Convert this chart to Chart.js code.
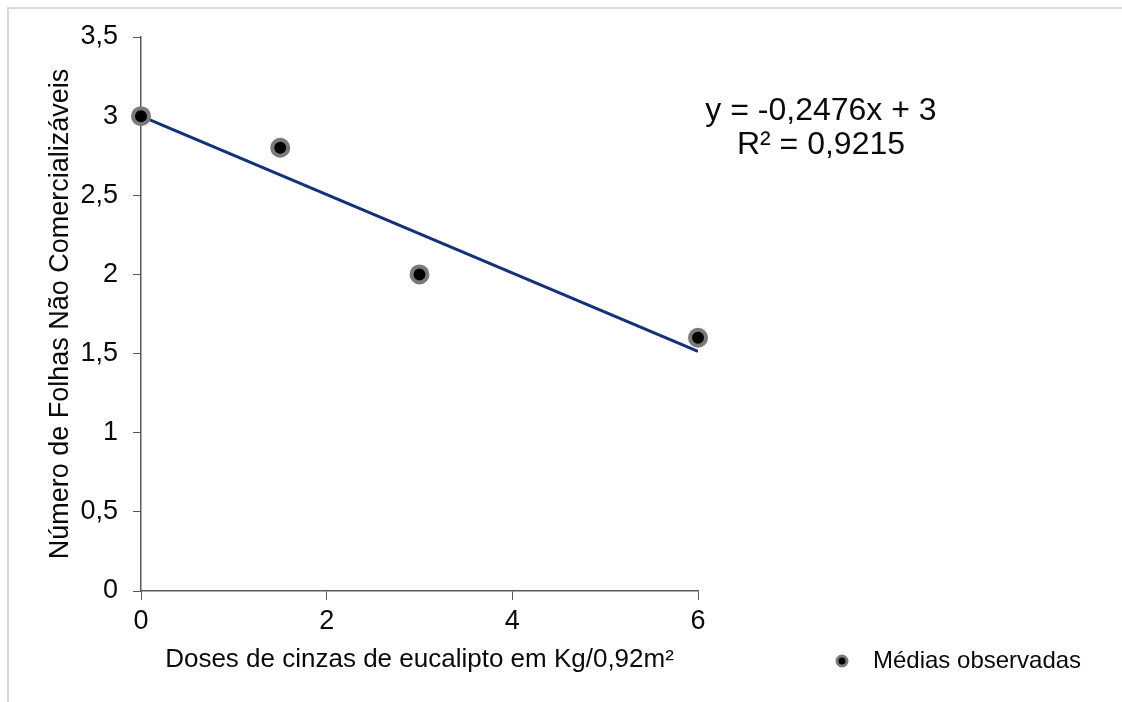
<!DOCTYPE html>
<html>
<head>
<meta charset="utf-8">
<script src="https://cdn.jsdelivr.net/npm/chart.js@4/dist/chart.umd.min.js"></script>
<style>
    body { margin: 0; background: #fff; }
    #wrap { position: relative; width: 1122px; height: 702px; }
    #frame { position: absolute; left: 7px; top: 7px; right: -10px; bottom: -10px;
             border-left: 2px solid #d9d9d9; border-top: 2px solid #d9d9d9; }
    canvas { position: absolute; left: 0; top: 0; }
</style>
</head>
<body>
<div id="wrap">
    <div id="frame"></div>
    <canvas id="chart" width="1122" height="702"></canvas>
</div>
<script>
// observed means
var doses = [0, 1.5, 3, 6];
var folhas = [3, 2.8, 2.0, 1.6];

// linear trend y = -0,2476x + 3, endpoints
var trendX = [0, 6];
var trendY = [3, 1.514];

var equationLines = ["y = -0,2476x + 3", "R\u00b2 = 0,9215"];

var fontFamily = "'Liberation Sans', Arial, sans-serif";

function toComma(v) {
    return String(v).replace('.', ',');
}

var pointData = doses.map(function(d, i) { return {x: d, y: folhas[i]}; });
var trendData = trendX.map(function(d, i) { return {x: d, y: trendY[i]}; });

// draws the equation text and the little legend at the bottom right
var extrasPlugin = {
    id: 'extras',
    afterDraw: function(chart) {
        var ctx = chart.ctx;
        ctx.save();
        ctx.fillStyle = '#0a0a0a';
        ctx.textAlign = 'center';
        ctx.textBaseline = 'middle';
        ctx.font = '32px ' + fontFamily;
        ctx.fillText(equationLines[0], 821, 111);
        ctx.fillText(equationLines[1], 821, 145);

        var ds = chart.data.datasets[0];
        ctx.beginPath();
        ctx.arc(842, 661, 5, 0, Math.PI * 2);
        ctx.fillStyle = ds.pointBackgroundColor;
        ctx.fill();
        ctx.lineWidth = 3;
        ctx.strokeStyle = ds.pointBorderColor;
        ctx.stroke();

        ctx.fillStyle = '#0a0a0a';
        ctx.textAlign = 'left';
        ctx.font = '24px ' + fontFamily;
        ctx.fillText(ds.label, 873, 661);
        ctx.restore();
    }
};

new Chart(document.getElementById('chart'), {
    type: 'scatter',
    data: {
        datasets: [
            {
                label: 'M\u00e9dias observadas',
                data: pointData,
                pointRadius: 8,
                pointHoverRadius: 8,
                pointBackgroundColor: '#000',
                pointBorderColor: '#7a7a7a',
                pointBorderWidth: 4,
                showLine: false,
                clip: false
            },
            {
                label: 'Tendência',
                data: trendData,
                showLine: true,
                borderColor: '#14307a',
                borderWidth: 3,
                pointRadius: 0,
                fill: false
            }
        ]
    },
    options: {
        responsive: false,
        animation: false,
        layout: { padding: { left: 0, top: 37, right: 424, bottom: 0 } },
        plugins: {
            legend: { display: false },
            tooltip: { enabled: false }
        },
        scales: {
            x: {
                type: 'linear',
                min: 0,
                max: 6,
                afterFit: function(scale) { scale.height = 111; },
                ticks: {
                    stepSize: 2,
                    color: '#0a0a0a',
                    padding: 5,
                    font: { size: 27, family: fontFamily },
                    callback: function(v) { return toComma(v); }
                },
                grid: { drawOnChartArea: false, drawTicks: true, tickLength: 9, color: '#595959' },
                border: { color: '#595959', width: 1.5 },
                title: {
                    display: true,
                    text: 'Doses de cinzas de eucalipto em Kg/0,92m\u00b2',
                    color: '#0a0a0a',
                    font: { size: 26, family: fontFamily },
                    padding: { top: 0, bottom: 27 }
                }
            },
            y: {
                min: 0,
                max: 3.5,
                afterFit: function(scale) { scale.width = 141; },
                ticks: {
                    stepSize: 0.5,
                    color: '#0a0a0a',
                    padding: 15,
                    font: { size: 27, family: fontFamily },
                    callback: function(v) { return toComma(v); }
                },
                grid: { drawOnChartArea: false, drawTicks: true, tickLength: 8, color: '#595959' },
                border: { color: '#595959', width: 1.5 },
                title: {
                    display: true,
                    text: 'N\u00famero de Folhas N\u00e3o Comercializ\u00e1veis',
                    color: '#0a0a0a',
                    font: { size: 27, family: fontFamily },
                    padding: { top: 44, bottom: 0 }
                }
            }
        }
    },
    plugins: [extrasPlugin]
});
</script>
</body>
</html>
